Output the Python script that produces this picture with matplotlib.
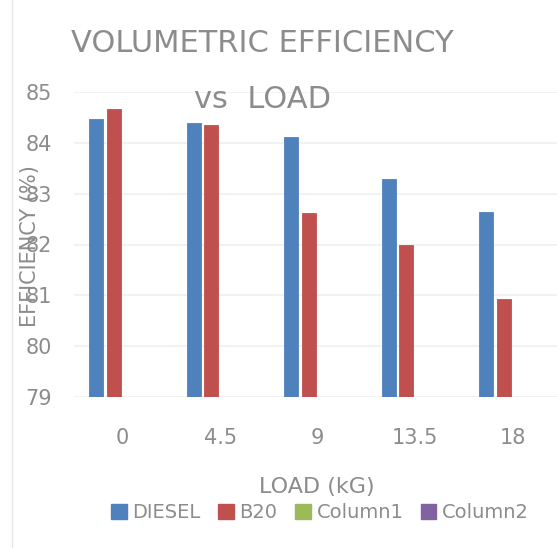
import matplotlib
matplotlib.use("Agg")
import matplotlib.pyplot as plt
import numpy as np
from matplotlib.patches import Patch
from matplotlib.lines import Line2D

loads = ["0", "4.5", "9", "13.5", "18"]
diesel = [84.46, 84.39, 84.11, 83.29, 82.63]
b20 = [84.66, 84.35, 82.62, 81.99, 80.93]
column1 = []
column2 = []
series_names = ["DIESEL", "B20", "Column1", "Column2"]
colors = ["#4F81BD", "#C0504D", "#9BBB59", "#8064A2"]
yticks = [79, 80, 81, 82, 83, 84, 85]

plt.rcParams["font.family"] = ["Liberation Sans Narrow", "DejaVu Sans"]
text_color = "#8C8C8C"

W, H = 557, 548
fig = plt.figure(figsize=[W / 100, H / 100], dpi=100)
fig.patch.set_facecolor("white")
ax = fig.add_axes([74 / W, 1 - 397 / H, (W - 74) / W, (397 - 92) / H])

x = np.arange(len(loads))
slot = 0.18
width = 0.144
for i, (vals, color) in enumerate(zip([diesel, b20, column1, column2], colors)):
    if len(vals) == 0:
        continue
    ax.bar(x + (i - 1.5) * slot, np.array(vals) - 79, width, bottom=79,
           color=color, edgecolor=color, linewidth=0.6, zorder=3)

ax.set_ylim(79, 85)
ax.set_xlim(-0.5, 4.454)
ax.set_yticks(yticks)
ax.set_xticks(x)
ax.set_xticklabels(loads)
ax.tick_params(axis="both", length=0, colors=text_color, labelsize=15)
ax.tick_params(axis="y", pad=16)
ax.tick_params(axis="x", pad=22)
ax.grid(axis="y", color="#F0F0F0", linewidth=1.2, zorder=0)
for s in ax.spines.values():
    s.set_visible(False)

fig.text(262 / W, 1 - 52 / H, "VOLUMETRIC EFFICIENCY", ha="center", va="baseline",
         fontsize=22, color=text_color)
fig.text(262 / W, 1 - 108 / H, "vs  LOAD", ha="center", va="baseline",
         fontsize=22, color=text_color)
fig.text(30 / W, 1 - 246 / H, "EFFICIENCY (%)", ha="center", va="center",
         rotation=90, fontsize=15, color=text_color)
fig.text(317 / W, 1 - 487 / H, "LOAD (kG)", ha="center", va="center",
         fontsize=16, color=text_color)

fig.add_artist(Line2D([12 / W, 12 / W], [0, 1], color="#E8E8E8", linewidth=1))

handles = [Patch(facecolor=c, edgecolor=c) for c in colors]
leg = fig.legend(handles, series_names, loc="center", ncol=4,
                 bbox_to_anchor=(320 / W, 1 - 513 / H), frameon=False,
                 fontsize=14, handlelength=0.8, handleheight=0.8,
                 handletextpad=0.3, columnspacing=0.9, labelcolor=text_color)

fig.savefig("out.png", dpi=100)
plt.close()
